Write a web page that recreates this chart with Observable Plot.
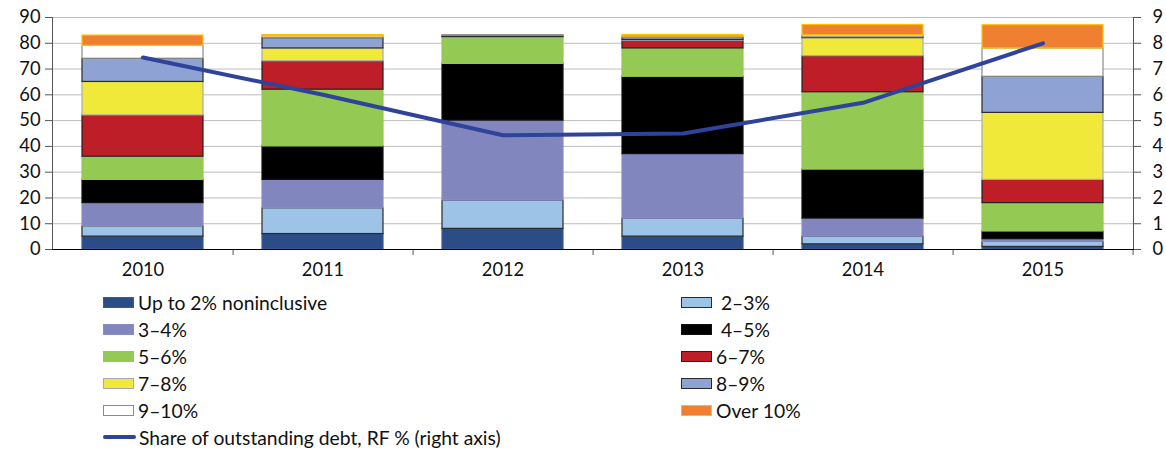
<!DOCTYPE html>
<html><head><meta charset="utf-8">
<script src="https://cdn.jsdelivr.net/npm/d3@7"></script>
<script src="https://cdn.jsdelivr.net/npm/@observablehq/plot@0.6"></script>
<style>
body{margin:0;background:#fff;font-family:Lato,"Open Sans",sans-serif;}
#wrap{position:relative;width:1166px;height:450px;overflow:hidden;}
#legend{position:absolute;left:103px;top:288.5px;display:grid;grid-template-columns:578px 300px;grid-auto-rows:27px;font-size:19.3px;color:#111;}
.item{display:flex;align-items:center;white-space:pre;}
.sw{width:31px;height:11px;box-sizing:border-box;border:1px solid;margin-right:4px;}
.ln{width:33px;height:4px;border-radius:2px;margin-right:3px;}
</style></head><body><div id="wrap"><div id="chart"></div><div id="legend"></div></div>
<script>
const years = ["2010","2011","2012","2013","2014","2015"];
const seriesNames = ["Up to 2% noninclusive","2–3%","3–4%","4–5%","5–6%","6–7%","7–8%","8–9%","9–10%","Over 10%"];
const legendLabels = ["Up to 2% noninclusive"," 2–3%","3–4%"," 4–5%","5–6%","6–7%","7–8%","8–9%","9–10%","Over 10%"];
const upTo2  = [5, 6, 8, 5, 2, 1];
const r2to3  = [4, 10, 11, 7, 3, 2];
const r3to4  = [9, 11, 31, 25, 7, 1];
const r4to5  = [9, 13, 22, 30, 19, 3];
const r5to6  = [9, 22, 10, 11, 30, 11];
const r6to7  = [16, 11, 0, 3, 14, 9];
const r7to8  = [13, 5, 0.4, 0.3, 7, 26];
const r8to9  = [9, 4, 0.5, 0.8, 0.3, 14];
const r9to10 = [5, 0.7, 0.2, 0.5, 0.8, 11];
const over10 = [4, 0.5, 0, 0.6, 4, 9];
const shareRF = [7.45, 6.0, 4.43, 4.5, 5.69, 8.0];
const lineName = "Share of outstanding debt, RF % (right axis)";
const leftTicks = [0,10,20,30,40,50,60,70,80,90];

const fills   = ["#2c4c86","#9dc3e6","#8286be","#000000","#94c954","#be1e27","#f1e93a","#8ea2d3","#ffffff","#ef8032"];
const strokes = ["#3a5a9c","#2a2a2a","#8a8ec4","#111111","#94c954","#222222","#a8a8b8","#2a2a2a","#8a8a8a","#ffc000"];

const seriesValues = [upTo2,r2to3,r3to4,r4to5,r5to6,r6to7,r7to8,r8to9,r9to10,over10];
const table = [];
seriesNames.forEach((s,i)=>years.forEach((y,j)=>{
  if (seriesValues[i][j] > 0) table.push({year:y, series:s, value:seriesValues[i][j], fill:fills[i], stroke:strokes[i]});
}));
const lineData = years.map((y,j)=>({year:y, share:shareRF[j]}));

const W = 1166, mL = 52, mR = 33;
const halfStep = (W - mL - mR) / years.length / 2;

const chart = Plot.plot({
  width: W, height: 290,
  marginTop: 17, marginBottom: 41, marginLeft: mL, marginRight: mR,
  style: {fontFamily: "Lato, 'Open Sans', sans-serif", fontSize: "18.3px", color: "#111", background: "#fff"},
  x: {type: "band", domain: years, paddingInner: 0.33, paddingOuter: 0.165, label: null},
  y: {domain: [0, 90], label: null},
  color: {type: "identity"},
  marks: [
    Plot.gridY(leftTicks, {stroke: "#bdbdbd", strokeOpacity: 1, strokeWidth: 1}),
    Plot.barY(table, Plot.stackY({x: "year", y: "value", z: "series", order: seriesNames,
      fill: "fill", stroke: "stroke", strokeWidth: 1.2})),
    Plot.line(lineData, {x: "year", y: d => d.share * 10, stroke: "#2e4399", strokeWidth: 4, strokeLinejoin: "round", strokeLinecap: "round"}),
    Plot.axisY(leftTicks, {anchor: "left", tickSize: 7, tickPadding: 5, stroke: "#555", label: null}),
    Plot.axisY(leftTicks, {anchor: "right", tickSize: 7, tickPadding: 12, stroke: "#555", tickFormat: d => d / 10, label: null}),
    Plot.axisX(years, {anchor: "bottom", tickSize: 0, tickPadding: 13, label: null}),
    Plot.axisX(years, {anchor: "bottom", tickSize: 6, text: null, dx: halfStep, stroke: "#555", label: null}),
    Plot.frame({anchor: "left", stroke: "#555"}),
    Plot.frame({anchor: "right", stroke: "#555"}),
    Plot.frame({anchor: "bottom", stroke: "#000"})
  ]
});
document.getElementById("chart").appendChild(chart);

const legend = document.getElementById("legend");
seriesNames.forEach((s,i)=>{
  const it = document.createElement("div"); it.className = "item";
  const sw = document.createElement("span"); sw.className = "sw";
  sw.style.background = fills[i]; sw.style.borderColor = strokes[i];
  it.appendChild(sw);
  it.appendChild(document.createTextNode(legendLabels[i]));
  legend.appendChild(it);
});
const li = document.createElement("div"); li.className = "item";
const ln = document.createElement("span"); ln.className = "ln"; ln.style.background = "#2e4399";
li.appendChild(ln); li.appendChild(document.createTextNode(lineName));
legend.appendChild(li);
</script></body></html>
